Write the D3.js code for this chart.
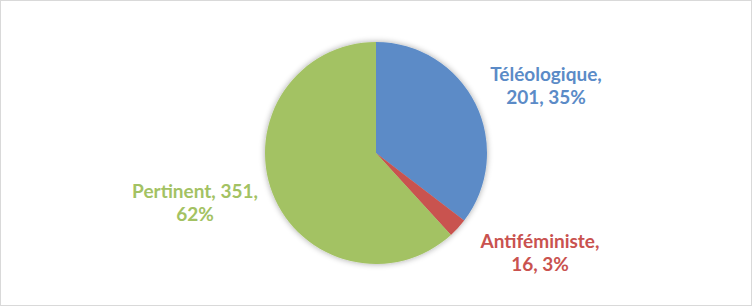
<!DOCTYPE html>
<html lang="fr">
<head>
<meta charset="utf-8">
<script src="https://d3js.org/d3.v7.min.js"></script>
<style>
  body { margin: 0; background: #fff; }
  svg text { font-family: Lato, "Open Sans", sans-serif; font-weight: bold; font-size: 19px; }
</style>
</head>
<body>
<svg id="chart" width="752" height="306"></svg>
<script>
var categories = ["Téléologique", "Antiféministe", "Pertinent"]
var values     = [201, 16, 351]
var percents   = ["35%", "3%", "62%"]

var colors = ["#5B8BC7", "#C9524F", "#A3C263"]
var textColors = ["#5B8BC7", "#C9524F", "#A3C263"]

var width = 752, height = 306
var cx = 376, cy = 153, radius = 111

var svg = d3.select("#chart")

svg.append("rect").attr("x", 0.5).attr("y", 0.5).attr("width", width - 1).attr("height", height - 1)
    .attr("fill", "#fff").attr("stroke", "#D9D9D9")

var defs = svg.append("defs")
var f = defs.append("filter").attr("id", "shadow").attr("x", "-20%").attr("y", "-20%").attr("width", "140%").attr("height", "140%")
f.append("feGaussianBlur").attr("in", "SourceAlpha").attr("stdDeviation", 3).attr("result", "b")
f.append("feOffset").attr("in", "b").attr("dx", 0).attr("dy", 0).attr("result", "o")
f.append("feComponentTransfer").attr("in", "o").attr("result", "s")
    .append("feFuncA").attr("type", "linear").attr("slope", 0.35)
var m = f.append("feMerge")
m.append("feMergeNode").attr("in", "s")
m.append("feMergeNode").attr("in", "SourceGraphic")

var pie = d3.pie().sort(null).value(d => d)
var arcs = pie(values)
var arc = d3.arc().innerRadius(0).outerRadius(radius)

var g = svg.append("g").attr("transform", "translate(" + cx + "," + cy + ")")
g.append("g").attr("filter", "url(#shadow)")
  .selectAll("path").data(arcs).enter().append("path")
    .attr("d", arc)
    .attr("fill", (d, i) => colors[i])

// label positions (line1, line2) relative to pie centre
var labels = [
    [categories[0] + ",", values[0] + ", " + percents[0]],
    [categories[1] + ",", values[1] + ", " + percents[1]],
    [categories[2] + ", " + values[2] + ",", percents[2]]
]
var labelOffsets = [[170, -72], [164, 95], [-181, 45]]

var lg = g.selectAll("text.lbl").data(arcs).enter().append("text")
    .attr("class", "lbl")
    .attr("text-anchor", "middle")
    .attr("fill", (d, i) => textColors[i])
    .attr("transform", (d, i) => "translate(" + labelOffsets[i][0] + "," + labelOffsets[i][1] + ")")
lg.append("tspan").attr("x", 0).attr("y", 0).text((d, i) => labels[i][0])
lg.append("tspan").attr("x", 0).attr("y", 23).text((d, i) => labels[i][1])
</script>
</body>
</html>
